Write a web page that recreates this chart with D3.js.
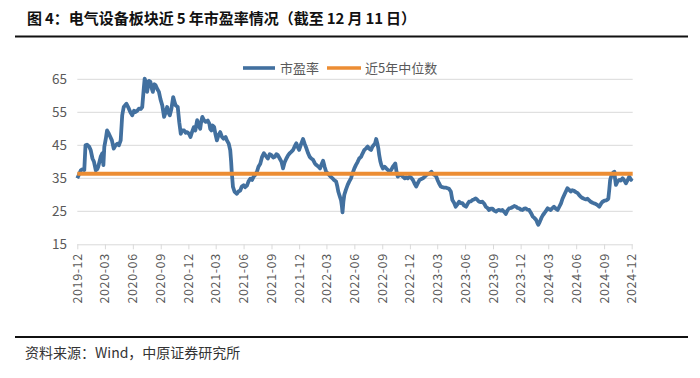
<!DOCTYPE html>
<html><head><meta charset="utf-8">
<script src="https://cdn.jsdelivr.net/npm/d3@7"></script>
<style>
html,body{margin:0;padding:0;background:#fff;}
svg{display:block;font-family:"Noto Sans CJK SC","Noto Sans",sans-serif;}
</style></head>
<body><svg id="c" width="700" height="378"></svg>
<script>
const title = "图\u20094：电气设备板块近\u20095\u2009年市盈率情况（截至\u200912\u2009月\u200911\u2009日）";
const source = "资料来源：Wind，中原证券研究所";
const seriesNames = ["市盈率", "近5年中位数"];
const yTicks = [15, 25, 35, 45, 55, 65];
const xTickLabels = ["2019-12","2020-03","2020-06","2020-09","2020-12","2021-03","2021-06","2021-09","2021-12","2022-03","2022-06","2022-09","2022-12","2023-03","2023-06","2023-09","2023-12","2024-03","2024-06","2024-09","2024-12"];
const median5y = 36.4;
const dates = [
"2019-12-01","2019-12-06","2019-12-13","2019-12-19","2019-12-24","2019-12-28","2020-01-02","2020-01-09","2020-01-14","2020-01-20","2020-01-25","2020-01-31","2020-02-05","2020-02-08","2020-02-16","2020-02-21","2020-02-25","2020-02-28","2020-03-04","2020-03-08","2020-03-14","2020-03-19","2020-03-24","2020-03-30","2020-04-05","2020-04-11","2020-04-16","2020-04-22","2020-04-27","2020-05-02","2020-05-11","2020-05-19","2020-05-24","2020-05-30","2020-06-05","2020-06-10","2020-06-16","2020-06-21","2020-06-27","2020-07-02","2020-07-07","2020-07-10","2020-07-14","2020-07-18","2020-07-24","2020-07-29","2020-08-03","2020-08-06","2020-08-11","2020-08-15","2020-08-21","2020-08-26","2020-08-31","2020-09-06","2020-09-12","2020-09-17","2020-09-22","2020-09-26","2020-10-01","2020-10-06","2020-10-12","2020-10-17","2020-10-20","2020-10-27","2020-11-01","2020-11-06","2020-11-10","2020-11-17","2020-11-22","2020-11-27","2020-12-03","2020-12-08","2020-12-13","2020-12-19","2020-12-24","2020-12-30",
"2021-01-04","2021-01-09","2021-01-12","2021-01-16","2021-01-22","2021-01-27","2021-02-03","2021-02-08","2021-02-11","2021-02-15","2021-02-19","2021-02-24","2021-02-28","2021-03-05","2021-03-10","2021-03-16","2021-03-22","2021-03-27","2021-04-03","2021-04-07","2021-04-13","2021-04-18","2021-04-21","2021-04-23","2021-04-27","2021-05-02","2021-05-10","2021-05-15","2021-05-21","2021-05-26","2021-06-01","2021-06-06","2021-06-12","2021-06-17","2021-06-23","2021-06-29","2021-07-04","2021-07-09","2021-07-15","2021-07-20","2021-07-26","2021-08-01","2021-08-07","2021-08-13","2021-08-20","2021-08-26","2021-09-01","2021-09-07","2021-09-12","2021-09-17","2021-09-22","2021-09-28","2021-10-04","2021-10-09","2021-10-14","2021-10-20","2021-10-26","2021-10-31","2021-11-05","2021-11-11","2021-11-17","2021-11-22","2021-11-26","2021-12-01","2021-12-08","2021-12-14","2021-12-19","2021-12-25","2021-12-31",
"2022-01-05","2022-01-10","2022-01-16","2022-01-22","2022-01-27","2022-02-03","2022-02-08","2022-02-12","2022-02-18","2022-02-23","2022-02-28","2022-03-05","2022-03-10","2022-03-15","2022-03-21","2022-03-26","2022-04-02","2022-04-06","2022-04-09","2022-04-14","2022-04-18","2022-04-21","2022-04-23","2022-04-26","2022-04-29","2022-05-04","2022-05-10","2022-05-15","2022-05-21","2022-05-26","2022-06-01","2022-06-06","2022-06-12","2022-06-17","2022-06-23","2022-06-28","2022-07-04","2022-07-09","2022-07-15","2022-07-20","2022-07-26","2022-07-30","2022-08-04","2022-08-08","2022-08-12","2022-08-16","2022-08-19","2022-08-22","2022-08-26","2022-08-29","2022-09-03","2022-09-09","2022-09-14","2022-09-20","2022-09-25","2022-09-30","2022-10-06","2022-10-10","2022-10-14","2022-10-18","2022-10-22","2022-10-27","2022-11-03","2022-11-08","2022-11-14","2022-11-19","2022-11-24","2022-11-30","2022-12-05","2022-12-11","2022-12-16","2022-12-22","2022-12-27",
"2023-01-02","2023-01-08","2023-01-13","2023-01-19","2023-01-24","2023-01-30","2023-02-05","2023-02-10","2023-02-15","2023-02-21","2023-02-26","2023-03-02","2023-03-07","2023-03-13","2023-03-18","2023-03-24","2023-03-29","2023-04-04","2023-04-09","2023-04-15","2023-04-20","2023-04-26","2023-05-01","2023-05-06","2023-05-12","2023-05-17","2023-05-23","2023-05-28","2023-06-04","2023-06-09","2023-06-14","2023-06-20","2023-06-25","2023-06-30","2023-07-06","2023-07-11","2023-07-17","2023-07-22","2023-07-28","2023-08-03","2023-08-08","2023-08-14","2023-08-19","2023-08-25","2023-08-30","2023-09-05","2023-09-11","2023-09-16","2023-09-21","2023-09-27","2023-10-02","2023-10-08","2023-10-13","2023-10-18","2023-10-24","2023-10-30","2023-11-05","2023-11-10","2023-11-16","2023-11-21","2023-11-26","2023-12-02","2023-12-07","2023-12-13","2023-12-18","2023-12-23","2023-12-29",
"2024-01-04","2024-01-10","2024-01-15","2024-01-21","2024-01-25","2024-01-28","2024-02-02","2024-02-07","2024-02-12","2024-02-17","2024-02-23","2024-02-28","2024-03-04","2024-03-09","2024-03-14","2024-03-20","2024-03-26","2024-04-01","2024-04-06","2024-04-12","2024-04-17","2024-04-23","2024-04-28","2024-05-03","2024-05-09","2024-05-14","2024-05-19","2024-05-25","2024-05-31","2024-06-06","2024-06-11","2024-06-16","2024-06-22","2024-06-27","2024-07-03","2024-07-08","2024-07-14","2024-07-19","2024-07-25","2024-07-30","2024-08-05","2024-08-10","2024-08-16","2024-08-22","2024-08-27","2024-09-02","2024-09-08","2024-09-13","2024-09-15","2024-09-18","2024-09-21","2024-09-25","2024-09-29","2024-10-02","2024-10-05","2024-10-07","2024-10-10","2024-10-15","2024-10-21","2024-10-26","2024-11-01","2024-11-07","2024-11-12","2024-11-18","2024-11-23","2024-11-29","2024-12-01"];
const pe = [
35.0,36.0,37.5,37.8,37.5,45.0,45.2,44.6,43.6,41.0,40.0,37.4,37.8,38.5,41.5,42.5,39.0,44.5,47.0,49.5,48.5,47.5,46.5,44.0,45.0,45.5,45.0,46.5,54.1,56.6,57.6,56.1,55.0,54.1,55.5,55.1,55.5,56.1,56.0,56.6,62.2,65.2,64.0,61.2,64.5,64.2,62.0,61.2,63.5,63.2,62.0,61.2,59.0,57.1,53.6,55.0,56.6,55.0,54.1,56.0,59.6,58.0,57.1,56.6,52.0,48.5,49.5,49.5,48.8,49.0,48.5,47.5,49.0,50.5,49.5,52.6,
51.0,50.0,52.0,53.6,52.5,52.1,52.5,51.6,50.0,49.5,51.0,50.5,48.5,46.5,48.0,49.0,47.5,47.0,47.5,46.5,45.5,43.5,40.0,36.9,32.4,31.0,30.3,31.0,31.3,32.5,32.9,32.3,32.8,34.0,34.9,34.5,35.5,36.0,37.0,38.5,39.4,41.5,42.6,41.8,41.0,42.3,42.0,41.3,41.5,42.3,42.0,41.0,40.0,38.0,39.8,41.0,42.0,42.6,43.0,43.6,44.8,45.6,44.5,43.6,45.5,46.9,45.5,44.1,42.5,
41.5,41.0,40.6,39.5,39.0,38.5,38.0,39.0,40.3,38.5,37.0,36.5,36.0,35.5,35.0,34.5,34.0,32.5,31.0,29.5,28.4,26.5,24.7,28.0,30.0,31.5,33.0,34.0,35.0,36.5,38.0,39.0,40.0,41.0,41.5,42.5,43.6,44.0,44.6,44.0,43.6,44.5,45.1,45.5,46.9,45.5,44.1,42.0,40.0,39.0,38.0,38.5,38.0,37.5,37.0,37.5,38.5,39.0,39.5,37.0,35.5,36.0,36.0,35.5,35.0,35.3,35.0,35.5,35.2,34.5,33.5,32.5,33.5,
34.5,34.8,35.0,35.5,36.0,36.3,36.5,37.0,36.3,36.0,35.5,34.5,33.5,32.5,32.3,32.2,32.2,32.0,31.8,31.0,28.4,27.5,26.4,27.0,27.9,27.5,27.5,26.8,26.4,27.2,27.9,28.0,28.4,28.6,28.9,28.5,27.9,27.8,27.9,27.3,26.4,26.0,25.4,25.8,25.8,25.2,24.9,25.3,25.4,25.2,25.4,24.8,24.2,25.2,25.9,26.0,26.3,26.6,26.4,26.0,25.9,25.5,25.4,25.8,25.9,25.5,25.4,
24.5,23.4,23.0,22.4,21.5,20.9,21.8,22.9,23.8,24.4,25.2,25.9,25.6,25.4,25.9,26.4,25.8,25.4,26.3,27.4,28.8,30.0,31.0,32.0,31.5,31.0,31.4,31.2,30.8,30.5,29.9,29.4,29.0,28.8,28.6,28.8,28.3,27.9,27.6,27.4,27.2,26.9,26.4,27.3,27.9,28.2,28.3,28.6,28.9,31.5,34.5,35.8,36.5,36.8,37.0,35.0,33.0,34.0,34.5,34.3,35.0,34.3,33.5,34.5,35.5,34.5,35.0];

const parse = d3.timeParse("%Y-%m-%d");
const data = dates.map((d, i) => ({ date: parse(d), v: pe[i] }));

const svg = d3.select("#c");
svg.append("rect").attr("width", 700).attr("height", 378).attr("fill", "#fff");

const pL = 77.3, pR = 631.7, pT = 79.3, pB = 244.3;
const x = d3.scaleTime().domain([parse("2019-12-01"), parse("2024-12-01")]).range([pL, pR]);
const y = d3.scaleLinear().domain([15, 65]).range([pB, pT]);

// title
svg.append("text").attr("x", 27).attr("y", 24).attr("font-size", 15).attr("font-weight", 700)
  .attr("fill", "#111").text(title);
svg.append("line").attr("x1", 15).attr("x2", 688).attr("y1", 36.5).attr("y2", 36.5)
  .attr("stroke", "#111").attr("stroke-width", 2);

// gridlines
svg.append("g").selectAll("line").data(yTicks.filter(t => t !== 15)).join("line")
  .attr("x1", pL).attr("x2", pR + 1).attr("y1", d => y(d)).attr("y2", d => y(d))
  .attr("stroke", "#d9d9d9").attr("stroke-width", 1);

// y labels
svg.append("g").selectAll("text").data(yTicks).join("text")
  .attr("x", 67).attr("y", d => y(d)).attr("dy", "0.36em").attr("text-anchor", "end")
  .attr("font-size", 13.5).attr("fill", "#595959").text(d => d);

// x axis
const tickDates = xTickLabels.map(s => parse(s + "-01"));
const xAxis = d3.axisBottom(x).tickValues(tickDates).tickSize(5).tickFormat("");
const gx = svg.append("g").attr("transform", `translate(0,${pB})`).call(xAxis);
gx.select(".domain").attr("stroke", "#d9d9d9").attr("d", `M${pL},0.5H${pR + 1}`);
gx.selectAll(".tick line").attr("stroke", "#d9d9d9");
svg.append("g").selectAll("text").data(xTickLabels).join("text")
  .attr("transform", (d, i) => `translate(${x(tickDates[i])},${pB + 9}) rotate(-90)`)
  .attr("text-anchor", "end").attr("dy", "0.36em")
  .attr("font-size", 12.5).attr("fill", "#595959").attr("letter-spacing", 0.6).text(d => d);

// PE line
const line = d3.line().x(d => x(d.date)).y(d => y(d.v)).curve(d3.curveLinear);
svg.append("path").datum(data).attr("d", line).attr("fill", "none")
  .attr("stroke", "#42709f").attr("stroke-width", 3.8).attr("stroke-linejoin", "round");

// median line
svg.append("line").attr("x1", pL).attr("x2", pR + 1)
  .attr("y1", y(median5y)).attr("y2", y(median5y))
  .attr("stroke", "#ec8d33").attr("stroke-width", 4);

// legend
const lg = svg.append("g").attr("font-size", 13).attr("fill", "#595959");
lg.append("line").attr("x1", 243).attr("x2", 275).attr("y1", 68).attr("y2", 68).attr("stroke", "#42709f").attr("stroke-width", 3.6);
lg.append("text").attr("x", 280).attr("y", 68).attr("dy", "0.36em").text(seriesNames[0]);
lg.append("line").attr("x1", 327).attr("x2", 361).attr("y1", 68).attr("y2", 68).attr("stroke", "#ec8d33").attr("stroke-width", 3.6);
lg.append("text").attr("x", 365).attr("y", 68).attr("dy", "0.36em").text(seriesNames[1]);

// footer
svg.append("line").attr("x1", 15).attr("x2", 688).attr("y1", 337).attr("y2", 337)
  .attr("stroke", "#111").attr("stroke-width", 2);
svg.append("text").attr("x", 25).attr("y", 353).attr("dy", "0.36em").attr("font-size", 14)
  .attr("fill", "#333").text(source);
</script></body></html>
